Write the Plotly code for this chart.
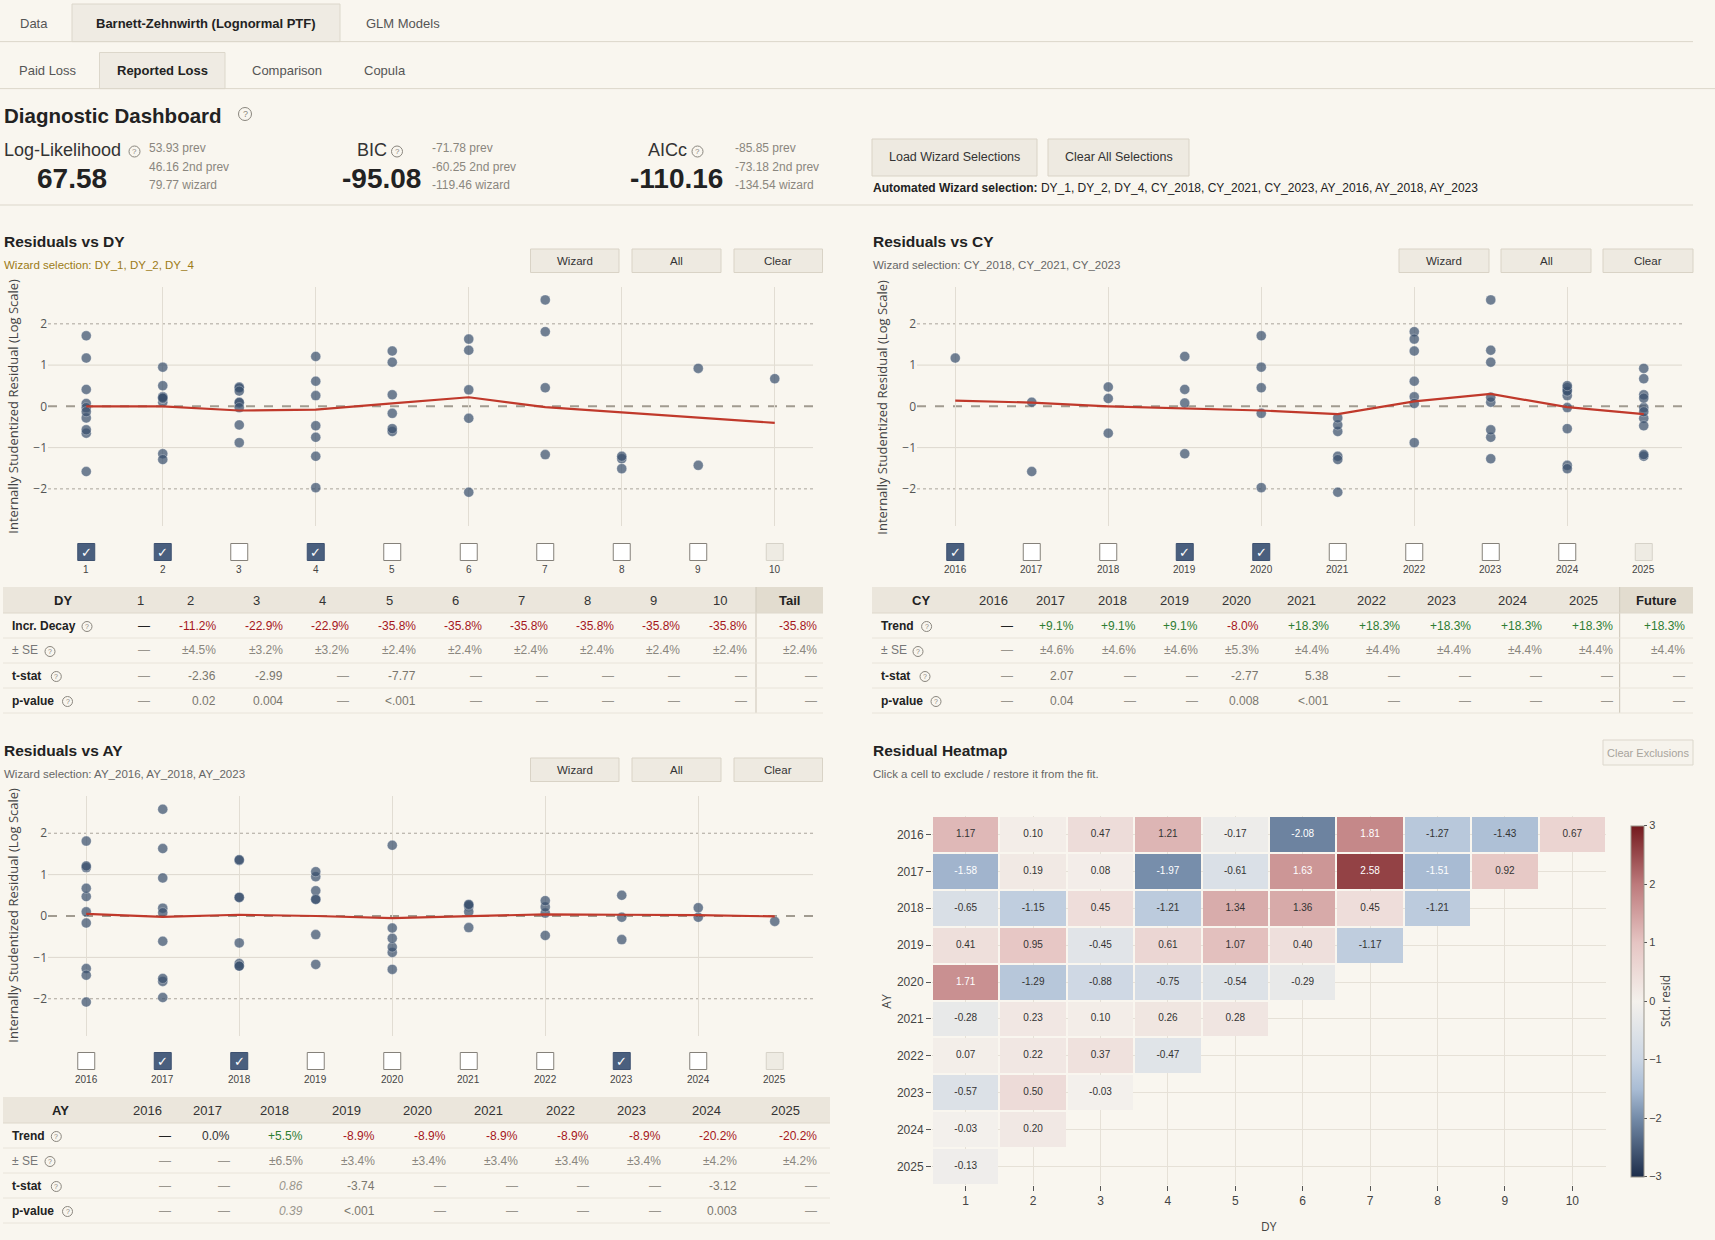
import plotly.graph_objects as go

W, H = 1715, 1240
BG = '#f9f6ef'
FONT = 'Liberation Sans, Arial, sans-serif'
AXFONT = 'Open Sans, DejaVu Sans, sans-serif'

# ---------------- data ----------------
dy_labels = [1, 2, 3, 4, 5, 6, 7, 8, 9, 10]
years = [2016, 2017, 2018, 2019, 2020, 2021, 2022, 2023, 2024, 2025]

# standardized residual triangle (rows = AY, columns = DY)
resid = [
    [1.17, 0.10, 0.47, 1.21, -0.17, -2.08, 1.81, -1.27, -1.43, 0.67],
    [-1.58, 0.19, 0.08, -1.97, -0.61, 1.63, 2.58, -1.51, 0.92],
    [-0.65, -1.15, 0.45, -1.21, 1.34, 1.36, 0.45, -1.21],
    [0.41, 0.95, -0.45, 0.61, 1.07, 0.40, -1.17],
    [1.71, -1.29, -0.88, -0.75, -0.54, -0.29],
    [-0.28, 0.23, 0.10, 0.26, 0.28],
    [0.07, 0.22, 0.37, -0.47],
    [-0.57, 0.50, -0.03],
    [-0.03, 0.20],
    [-0.13],
]

trend_dy = [0.0, 0.0, -0.10, -0.08, 0.07, 0.22, -0.02, -0.15, -0.27, -0.40]
trend_cy = [0.14, 0.09, 0.0, -0.05, -0.10, -0.19, 0.12, 0.30, -0.02, -0.19]
trend_ay = [0.05, -0.02, 0.03, 0.0, -0.05, -0.01, 0.04, 0.03, 0.02, -0.01]

dy_check = ['on', 'on', 'off', 'on', 'off', 'off', 'off', 'off', 'off', 'dis']
cy_check = ['on', 'off', 'off', 'on', 'on', 'off', 'off', 'off', 'off', 'dis']
ay_check = ['off', 'on', 'on', 'off', 'off', 'off', 'off', 'on', 'off', 'dis']

dy_cols = ['1', '2', '3', '4', '5', '6', '7', '8', '9', '10', 'Tail']
dy_decay = ['—', '-11.2%', '-22.9%', '-22.9%', '-35.8%', '-35.8%', '-35.8%', '-35.8%', '-35.8%', '-35.8%', '-35.8%']
dy_se = ['—', '±4.5%', '±3.2%', '±3.2%', '±2.4%', '±2.4%', '±2.4%', '±2.4%', '±2.4%', '±2.4%', '±2.4%']
dy_tstat = ['—', '-2.36', '-2.99', '—', '-7.77', '—', '—', '—', '—', '—', '—']
dy_pval = ['—', '0.02', '0.004', '—', '<.001', '—', '—', '—', '—', '—', '—']

cy_cols = ['2016', '2017', '2018', '2019', '2020', '2021', '2022', '2023', '2024', '2025', 'Future']
cy_trend = ['—', '+9.1%', '+9.1%', '+9.1%', '-8.0%', '+18.3%', '+18.3%', '+18.3%', '+18.3%', '+18.3%', '+18.3%']
cy_se = ['—', '±4.6%', '±4.6%', '±4.6%', '±5.3%', '±4.4%', '±4.4%', '±4.4%', '±4.4%', '±4.4%', '±4.4%']
cy_tstat = ['—', '2.07', '—', '—', '-2.77', '5.38', '—', '—', '—', '—', '—']
cy_pval = ['—', '0.04', '—', '—', '0.008', '<.001', '—', '—', '—', '—', '—']

ay_cols = ['2016', '2017', '2018', '2019', '2020', '2021', '2022', '2023', '2024', '2025']
ay_trend = ['—', '0.0%', '+5.5%', '-8.9%', '-8.9%', '-8.9%', '-8.9%', '-8.9%', '-20.2%', '-20.2%']
ay_se = ['—', '—', '±6.5%', '±3.4%', '±3.4%', '±3.4%', '±3.4%', '±3.4%', '±4.2%', '±4.2%']
ay_tstat = ['—', '—', '0.86', '-3.74', '—', '—', '—', '—', '-3.12', '—']
ay_pval = ['—', '—', '0.39', '<.001', '—', '—', '—', '—', '0.003', '—']
ay_italic = [False, False, True, False, False, False, False, False, False, False]

metrics = [
    ('Log-Likelihood', '67.58', ['53.93 prev', '46.16 2nd prev', '79.77 wizard']),
    ('BIC', '-95.08', ['-71.78 prev', '-60.25 2nd prev', '-119.46 wizard']),
    ('AICc', '-110.16', ['-85.85 prev', '-73.18 2nd prev', '-134.54 wizard']),
]
wizard_all = 'DY_1, DY_2, DY_4, CY_2018, CY_2021, CY_2023, AY_2016, AY_2018, AY_2023'

# ---------------- helpers ----------------
shapes, annotations = [], []


def X(px):
    return px / W


def Y(py):
    return 1 - py / H


def txt(x, y, s, size=12, color='#333', bold=False, anchor='left', family=FONT, angle=0, italic=False):
    if bold:
        s = '<b>' + s + '</b>'
    if italic:
        s = '<i>' + s + '</i>'
    annotations.append(dict(x=X(x), y=Y(y), xref='paper', yref='paper', text=s, showarrow=False,
                            xanchor=anchor, yanchor='middle', textangle=angle,
                            font=dict(size=size, color=color, family=family), borderpad=0))


def rect(x0, y0, x1, y1, fill, line=None, lw=1, layer='below'):
    shapes.append(dict(type='rect', xref='paper', yref='paper', x0=X(x0), x1=X(x1), y0=Y(y1), y1=Y(y0),
                       fillcolor=fill, line=dict(color=line if line else fill, width=lw if line else 0),
                       layer=layer))


def hline(x0, x1, y, color, w=1):
    shapes.append(dict(type='line', xref='paper', yref='paper', x0=X(x0), x1=X(x1), y0=Y(y), y1=Y(y),
                       line=dict(color=color, width=w), layer='below'))


def vline(x, y0, y1, color, w=1):
    shapes.append(dict(type='line', xref='paper', yref='paper', x0=X(x), x1=X(x), y0=Y(y0), y1=Y(y1),
                       line=dict(color=color, width=w), layer='below'))


def qicon(x, y, d=10):
    shapes.append(dict(type='circle', xref='paper', yref='paper', x0=X(x - d / 2), x1=X(x + d / 2),
                       y0=Y(y + d / 2), y1=Y(y - d / 2), line=dict(color='#8a867e', width=1),
                       fillcolor='rgba(0,0,0,0)', layer='above'))
    txt(x, y, '?', size=int(d * 0.75), color='#8a867e', anchor='center')


def button(x0, y0, x1, y1, label, size=12, color='#333', fill='#eeeae1', border='#d9d3c6'):
    rect(x0, y0, x1, y1, fill, border, 1)
    txt((x0 + x1) / 2, (y0 + y1) / 2, label, size=size, color=color, anchor='center')


# ---------------- header / tabs ----------------
rect(72, 4, 340, 41.6, '#efebe3', '#dcd7cb')
hline(0, 1693, 41.6, '#dcd7cb')
txt(34, 23, 'Data', 13, '#555', anchor='center')
txt(206, 23, 'Barnett-Zehnwirth (Lognormal PTF)', 13, '#222', bold=True, anchor='center')
txt(403, 23, 'GLM Models', 13, '#555', anchor='center')

rect(99.5, 52.5, 225, 88.6, '#efebe3', '#dcd7cb')
hline(0, 1715, 88.6, '#dcd7cb')
txt(48, 71, 'Paid Loss', 13, '#555', anchor='center')
txt(162, 71, 'Reported Loss', 13, '#222', bold=True, anchor='center')
txt(286.5, 71, 'Comparison', 13, '#555', anchor='center')
txt(385, 71, 'Copula', 13, '#555', anchor='center')

txt(3, 115, 'Diagnostic Dashboard', 20.5, '#222', bold=True)
qicon(245, 114, 13)

m_lab = [(3, 'left'), (388, 'right'), (688, 'right')]
m_icon_x = [134.5, 397, 697.5]
m_val_x = [71.5, 381, 676]
m_note_x = [148, 430.5, 734]
for k, (lab, val, notes) in enumerate(metrics):
    lx, anc = m_lab[k]
    txt(lx, 150, lab, 18, '#333', anchor=anc)
    qicon(m_icon_x[k], 151.5, 11)
    txt(m_val_x[k], 178, val, 28, '#222', bold=True, anchor='center')
    for j, nt in enumerate(notes):
        txt(m_note_x[k], 148 + 18.5 * j, nt, 12, '#8a867e')

button(872, 139, 1037, 176, 'Load Wizard Selections', 12.5)
button(1048, 139, 1189, 176, 'Clear All Selections', 12.5)
txt(872, 188, '<b>Automated Wizard selection:</b> ' + wizard_all, 12, '#222')
hline(0, 1693, 205, '#dcd7cb')


# ---------------- residual panels ----------------
def panel_header(x0, ytitle, title, wiz, wizcolor, btn_x, btn_y0):
    txt(x0, ytitle, title, 15.5, '#222', bold=True)
    txt(x0, ytitle + 23.5, wiz, 11.5, wizcolor)
    for (bx0, bx1), lab in zip(btn_x, ['Wizard', 'All', 'Clear']):
        button(bx0, btn_y0, bx1, btn_y0 + 23.5, lab, 11.5)


panel_header(3, 241.7, 'Residuals vs DY', 'Wizard selection: DY_1, DY_2, DY_4', '#9c7b16',
             [(530.5, 619), (632, 721), (734, 822.5)], 249)
panel_header(872, 241.7, 'Residuals vs CY', 'Wizard selection: CY_2018, CY_2021, CY_2023', '#666',
             [(1399, 1489), (1501, 1591), (1603, 1693)], 249)
panel_header(3, 750.7, 'Residuals vs AY', 'Wizard selection: AY_2016, AY_2018, AY_2023', '#666',
             [(530.5, 619), (632, 721), (734, 822.5)], 758)

# y-axis titles
ytitle = 'Internally Studentized Residual (Log Scale)'
txt(13, 406.7, ytitle, 13, '#444', family=AXFONT, anchor='center', angle=-90)
txt(882, 406.7, ytitle, 13, '#444', family=AXFONT, anchor='center', angle=-90)
txt(13, 915.7, ytitle, 13, '#444', family=AXFONT, anchor='center', angle=-90)

# group residuals for scatter panels
dy_x, dy_y, cy_x, cy_y, ay_x, ay_y = [], [], [], [], [], []
for i, row in enumerate(resid):
    for j, v in enumerate(row):
        dy_x.append(dy_labels[j]); dy_y.append(v)
        cy_x.append(years[i] + j); cy_y.append(v)
        ay_x.append(years[i]); ay_y.append(v)

fig = go.Figure()
MARK = dict(size=10, color='rgba(58,80,110,0.72)', line=dict(color='rgba(255,255,255,0.5)', width=0.6))
RED = '#c0392b'

for xs, ys, tx, ty, ax in [(dy_x, dy_y, dy_labels, trend_dy, ''), (cy_x, cy_y, years, trend_cy, '2'),
                           (ay_x, ay_y, years, trend_ay, '3')]:
    fig.add_trace(go.Scatter(x=xs, y=ys, mode='markers', marker=MARK, xaxis='x' + ax, yaxis='y' + ax,
                             hoverinfo='skip'))
    fig.add_trace(go.Scatter(x=tx, y=ty, mode='lines', line=dict(color=RED, width=2.2), xaxis='x' + ax,
                             yaxis='y' + ax, hoverinfo='skip'))
    dom = ('x' + ax + ' domain') if ax else 'x domain'
    yr = 'y' + ax
    for v, col, wd, ds in [(-1, '#ddd8ce', 1, 'solid'), (1, '#ddd8ce', 1, 'solid'),
                           (-2, '#aaa59b', 1, 'dot'), (2, '#aaa59b', 1, 'dot'),
                           (0, '#a19b90', 2, 'dash')]:
        shapes.append(dict(type='line', xref=dom, x0=0, x1=1, yref=yr, y0=v, y1=v,
                           line=dict(color=col, width=wd, dash=ds), layer='below'))


# checkboxes
def checkboxes(ax, cats, states, ycen, ylab, unit_px):
    half = 8.5 / unit_px
    for c, st in zip(cats, states):
        if st == 'on':
            fill, line = '#4a5f7e', '#3e5170'
        elif st == 'off':
            fill, line = '#ffffff', '#85817a'
        else:
            fill, line = '#eeebe3', '#d6d2c8'
        shapes.append(dict(type='rect', xref=ax, yref='paper', x0=c - half, x1=c + half,
                           y0=Y(ycen + 8.5), y1=Y(ycen - 8.5), fillcolor=fill,
                           line=dict(color=line, width=1), layer='above'))
        if st == 'on':
            annotations.append(dict(x=c, y=Y(ycen), xref=ax, yref='paper', text='✓', showarrow=False,
                                    font=dict(size=13, color='white', family='DejaVu Sans'),
                                    xanchor='center', yanchor='middle'))
        annotations.append(dict(x=c, y=Y(ylab), xref=ax, yref='paper', text=str(c), showarrow=False,
                                font=dict(size=10, color='#444', family=FONT),
                                xanchor='center', yanchor='middle'))


checkboxes('x', dy_labels, dy_check, 552, 569, 76.6)
checkboxes('x2', years, cy_check, 552, 569, 76.5)
checkboxes('x3', years, ay_check, 1061, 1079, 76.6)


# ---------------- tables ----------------
def val_color(kind, s):
    if s == '—':
        return '#222' if kind == 'main' else '#9a968e'
    if kind == 'main':
        if s.startswith('-'):
            return '#a5161c'
        if s.startswith('+'):
            return '#2e7d32'
        return '#333'
    if kind == 'se':
        return '#8a867e'
    return '#7a766e'


def table(x0, x1, ytop, label, cols, hdr_cx, right_x, rows, row_labels, icon_x, sep_x=None, italic=None):
    hdr_h, row_h = 26, 25
    rect(x0, ytop, x1, ytop + hdr_h, '#ebe6dc')
    if sep_x is not None:
        rect(sep_x, ytop, x1, ytop + hdr_h, '#e2dccf')
        vline(sep_x, ytop, ytop + hdr_h + 4 * row_h, '#d3cdc0', 1.2)
    hline(x0, x1, ytop + hdr_h, '#ded8cc')
    yc = ytop + hdr_h / 2
    txt(hdr_cx[0], yc, label, 13, '#222', bold=True, anchor='center')
    for k, c in enumerate(cols):
        last = (sep_x is not None and k == len(cols) - 1)
        txt(hdr_cx[k + 1], yc, c, 13, '#222' if last else '#333', bold=last, anchor='center')
    kinds = ['main', 'se', 'stat', 'stat']
    for r, (vals, (lab, lbold)) in enumerate(zip(rows, row_labels)):
        ry = ytop + hdr_h + r * row_h + row_h / 2
        hline(x0, x1, ytop + hdr_h + (r + 1) * row_h, '#e9e4da')
        txt(x0 + 8, ry, lab, 12, '#222' if lbold else '#777', bold=lbold)
        qicon(icon_x[r] + 5, ry + 1, 10)
        for k, s in enumerate(vals):
            it = bool(italic and italic[k] and r >= 2)
            col = '#9a968e' if it else val_color(kinds[r], s)
            txt(right_x[k], ry, s, 12, col, anchor='right', italic=it)


row_labels_dy = [('Incr. Decay', True), ('± SE', False), ('t-stat', True), ('p-value', True)]
row_labels_tr = [('Trend', True), ('± SE', False), ('t-stat', True), ('p-value', True)]

table(3, 823, 587, 'DY', dy_cols,
      [63.5, 140.3, 190.5, 256.7, 322.9, 389, 455.2, 521.4, 587.5, 653.7, 719.8, 789.7],
      [151, 217, 284, 350.4, 416.6, 482.7, 548.9, 615, 681, 748, 818],
      [dy_decay, dy_se, dy_tstat, dy_pval], row_labels_dy, [82, 45, 51.3, 62.5], sep_x=756)

table(872, 1693, 587, 'CY', cy_cols,
      [921, 993.6, 1050.8, 1112.5, 1174.6, 1236, 1301.7, 1371, 1441.8, 1512.7, 1583.6, 1656],
      [1013.8, 1075.4, 1137, 1199, 1259.7, 1330, 1401, 1472, 1542.7, 1613.6, 1686],
      [cy_trend, cy_se, cy_tstat, cy_pval], row_labels_tr, [921.6, 913, 920, 931], sep_x=1619.6)

table(3, 830, 1097, 'AY', ay_cols,
      [60.9, 147, 207.5, 274, 346.7, 417, 488.5, 560, 631.5, 706.6, 785],
      [172, 231.3, 304.3, 375.8, 447.3, 518.7, 590, 661.6, 738.4, 817.8],
      [ay_trend, ay_se, ay_tstat, ay_pval], row_labels_tr, [51.3, 45, 51.3, 62.5], italic=ay_italic)

# ---------------- heatmap ----------------
txt(872, 750.7, 'Residual Heatmap', 15.5, '#222', bold=True)
txt(872, 774, 'Click a cell to exclude / restore it from the fit.', 11.5, '#666')
button(1603, 740, 1693, 765, 'Clear Exclusions', 11, color='#a8a49c', fill='#f6f3ec', border='#dcd7cc')
txt(887, 1001.7, 'AY', 12, '#444', family=AXFONT, anchor='center', angle=-90)
txt(1269, 1226, 'DY', 12, '#444', family=AXFONT, anchor='center')

z = [[row[j] if j < len(row) else None for j in range(len(dy_labels))] for row in resid]
cscale = [
    [0.0, '#1d2d4a'],
    [1 / 6, '#748ba8'],
    [1.5 / 6, '#a9bcd4'],
    [2 / 6, '#cad5e3'],
    [0.5, '#f4f1ec'],
    [4 / 6, '#e6c5c3'],
    [5 / 6, '#bd7a7c'],
    [1.0, '#741a1e'],
]
fig.add_trace(go.Heatmap(
    x=dy_labels, y=years, z=z, zmin=-3, zmax=3, colorscale=cscale, xgap=2, ygap=2,
    hoverinfo='skip', xaxis='x4', yaxis='y4',
    colorbar=dict(x=1630.5 / W, xanchor='left', y=Y(1001), yanchor='middle', len=351 / H, lenmode='fraction',
                  ypad=0, xpad=0,
                  thickness=13, thicknessmode='pixels', outlinewidth=1, outlinecolor='#9a958b',
                  tickvals=[-3, -2, -1, 0, 1, 2, 3], ticks='outside', ticklen=3, tickcolor='#555',
                  tickfont=dict(size=11, color='#444', family=FONT),
                  title=dict(text='Std. resid', side='right', font=dict(size=12, color='#444', family=AXFONT)))
))

# cell labels
cx, cyv, ct, cc = [], [], [], []
for i, row in enumerate(resid):
    for j, v in enumerate(row):
        cx.append(dy_labels[j]); cyv.append(years[i])
        ct.append(f'{v:.2f}')
        cc.append('#ffffff' if abs(v) >= 1.5 else '#333333')
fig.add_trace(go.Scatter(x=cx, y=cyv, mode='text', text=ct, textposition='middle center',
                         textfont=dict(size=10, color=cc, family=FONT), xaxis='x4', yaxis='y4',
                         hoverinfo='skip'))


# ---------------- axes ----------------
def sx(domain_px, rng, tv):
    return dict(domain=[X(domain_px[0]), X(domain_px[1])], range=rng, tickvals=tv, showticklabels=False,
                showgrid=True, gridcolor='#e2ddd3', gridwidth=1, zeroline=False, showline=False, ticks='',
                fixedrange=True)


def sy(domain_px, anchor):
    return dict(domain=[Y(domain_px[1]), Y(domain_px[0])], range=[-2.9, 2.9], tickvals=[-2, -1, 0, 1, 2],
                showgrid=False, zeroline=False, showline=False, ticks='', anchor=anchor,
                tickfont=dict(size=12, color='#555', family=AXFONT), fixedrange=True)


xa1 = sx((48, 813), [0.5, 10.5], [2, 4, 6, 8, 10]); xa1['anchor'] = 'y'
xa2 = sx((917, 1682), [2015.5, 2025.5], [2016, 2018, 2020, 2022, 2024]); xa2['anchor'] = 'y2'
xa3 = sx((48, 813), [2015.5, 2025.5], [2016, 2018, 2020, 2022, 2024]); xa3['anchor'] = 'y3'

fig.update_layout(
    width=W, height=H, margin=dict(l=0, r=0, t=0, b=0, pad=0),
    paper_bgcolor=BG, plot_bgcolor=BG, showlegend=False, font=dict(family=FONT, color='#333'),
    xaxis=xa1, yaxis=sy((286.7, 526), 'x'),
    xaxis2=xa2, yaxis2=sy((286.7, 526), 'x2'),
    xaxis3=xa3, yaxis3=sy((796, 1036), 'x3'),
    xaxis4=dict(domain=[X(932), X(1606)], range=[0.5, 10.5], tickvals=dy_labels, anchor='y4',
                ticks='outside', ticklen=5, tickcolor='#555', showgrid=True, gridcolor='#e6e1d7',
                zeroline=False, showline=False, tickfont=dict(size=12, color='#444'), fixedrange=True),
    yaxis4=dict(domain=[Y(1185), Y(816)], range=[2025.5, 2015.5], tickvals=years, anchor='x4',
                ticks='outside', ticklen=5, tickcolor='#555', showgrid=True, gridcolor='#e6e1d7',
                zeroline=False, showline=False, tickfont=dict(size=12, color='#444'), fixedrange=True),
    shapes=shapes, annotations=annotations,
)

fig.write_html("out.html", config={'displayModeBar': False},
               post_script="document.body.style.margin='0';document.body.style.overflow='hidden';")
